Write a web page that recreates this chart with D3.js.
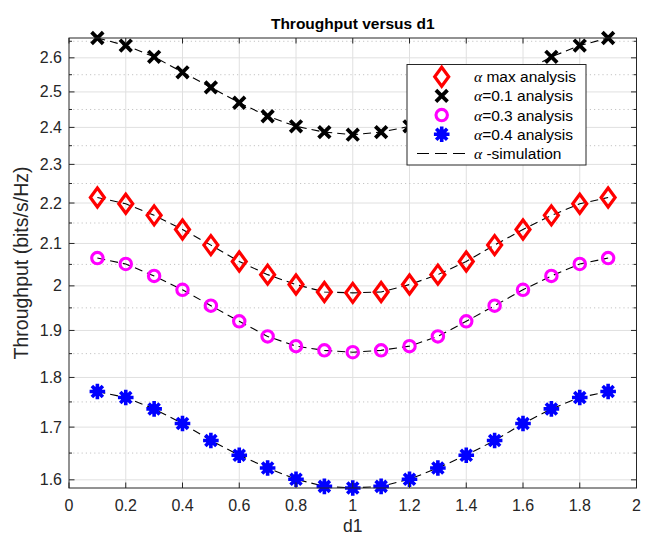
<!DOCTYPE html>
<html>
<head>
<meta charset="utf-8">
<script src="https://cdn.jsdelivr.net/npm/d3@7/dist/d3.min.js"></script>
<style>
html,body{margin:0;padding:0;background:#fff;}
svg{display:block;}
text{font-family:"Liberation Sans",Arial,sans-serif;}
</style>
</head>
<body>
<svg id="chart" width="656" height="539"></svg>
<script>
// ---- data ----
const d1 = [0.1,0.2,0.3,0.4,0.5,0.6,0.7,0.8,0.9,1.0,1.1,1.2,1.3,1.4,1.5,1.6,1.7,1.8,1.9];
const alphaMax = [2.214,2.198,2.169,2.134,2.096,2.057,2.026,2.003,1.986,1.984,1.986,2.003,2.026,2.057,2.096,2.134,2.169,2.198,2.214];
const alpha01  = [2.660,2.637,2.603,2.557,2.513,2.469,2.431,2.403,2.387,2.380,2.387,2.403,2.431,2.469,2.513,2.557,2.603,2.637,2.660];
const alpha03  = [2.065,2.051,2.023,1.991,1.955,1.920,1.887,1.866,1.857,1.853,1.857,1.866,1.887,1.920,1.955,1.991,2.023,2.051,2.065];
const alpha04  = [1.771,1.759,1.736,1.707,1.674,1.646,1.622,1.601,1.588,1.585,1.588,1.601,1.622,1.646,1.674,1.707,1.736,1.759,1.771];
const xTicks = [0,0.2,0.4,0.6,0.8,1,1.2,1.4,1.6,1.8,2];
const yTicks = [1.6,1.7,1.8,1.9,2.0,2.1,2.2,2.3,2.4,2.5,2.6];
const yMinor = [1.65,1.75,1.85,1.95,2.05,2.15,2.25,2.35,2.45,2.55,2.65];
const titleText = "Throughput versus d1";
const xLabel = "d1";
const yLabel = "Throughput (bits/s/Hz)";

const series = [
  {name:"max analysis", sep:" ", values:alphaMax, marker:"diamond", color:"#ff0000"},
  {name:"=0.1 analysis", sep:"", values:alpha01, marker:"x", color:"#000000"},
  {name:"=0.3 analysis", sep:"", values:alpha03, marker:"circle", color:"#ff00ff"},
  {name:"=0.4 analysis", sep:"", values:alpha04, marker:"star", color:"#0000ff"}
];

// ---- layout ----
const L = 69, R = 636.5, T = 38, B = 488;
const svg = d3.select("#chart");
const allVals = [].concat(alphaMax, alpha01, alpha03, alpha04);
const x = d3.scaleLinear().domain([0,2]).range([L,R]);
const y = d3.scaleLog().domain(d3.extent(allVals)).range([B,T]);

const axisColor = "#262626";

// grid
const g = svg.append("g");
g.selectAll(".vg").data(xTicks.slice(1,-1)).enter().append("line")
  .attr("x1",d=>x(d)).attr("x2",d=>x(d)).attr("y1",T).attr("y2",B)
  .attr("stroke","#e0e0e0").attr("stroke-width",1);
g.selectAll(".hm").data(yMinor.filter(v=>y(v)>=T&&y(v)<=B)).enter().append("line")
  .attr("x1",L).attr("x2",R).attr("y1",d=>y(d)).attr("y2",d=>y(d))
  .attr("stroke","#c4c4c4").attr("stroke-width",1).attr("stroke-dasharray","1.2,3");
g.selectAll(".hg").data(yTicks).enter().append("line")
  .attr("x1",L).attr("x2",R).attr("y1",d=>y(d)).attr("y2",d=>y(d))
  .attr("stroke","#e0e0e0").attr("stroke-width",1);

// simulation dashed lines
const line = d3.line().x((d,i)=>x(d1[i])).y(d=>y(d)).curve(d3.curveLinear);
series.forEach(s=>{
  svg.append("path").attr("d",line(s.values)).attr("fill","none")
    .attr("stroke","#000").attr("stroke-width",1.1).attr("stroke-dasharray","8,5");
});

// markers
function drawMarker(sel, type, color){
  if(type==="diamond"){
    sel.append("path").attr("d","M0,-9.5 L7,0 L0,9.5 L-7,0 Z").attr("fill","none")
      .attr("stroke",color).attr("stroke-width",3.2).attr("stroke-linejoin","miter");
  } else if(type==="x"){
    sel.append("path").attr("d","M-5.8,-5.8 L5.8,5.8 M-5.8,5.8 L5.8,-5.8").attr("fill","none")
      .attr("stroke",color).attr("stroke-width",3.8);
  } else if(type==="circle"){
    sel.append("circle").attr("r",5.7).attr("fill","none")
      .attr("stroke",color).attr("stroke-width",3.1);
  } else if(type==="star"){
    sel.append("path").attr("d","M-7.8,0 L7.8,0 M0,-7.8 L0,7.8 M-5.5,-5.5 L5.5,5.5 M-5.5,5.5 L5.5,-5.5")
      .attr("fill","none").attr("stroke",color).attr("stroke-width",3.6);
    sel.append("circle").attr("r",5).attr("fill",color);
  }
}
series.forEach(s=>{
  const gg = svg.append("g");
  s.values.forEach((v,i)=>{
    const m = gg.append("g").attr("transform",`translate(${x(d1[i])},${y(v)})`);
    drawMarker(m, s.marker, s.color);
  });
});

// axes box
svg.append("rect").attr("x",L).attr("y",T).attr("width",R-L).attr("height",B-T)
  .attr("fill","none").attr("stroke",axisColor).attr("stroke-width",1);

// ticks
const tk = svg.append("g").attr("stroke",axisColor).attr("stroke-width",1);
xTicks.forEach(t=>{
  tk.append("line").attr("x1",x(t)).attr("x2",x(t)).attr("y1",B).attr("y2",B-5.5);
  tk.append("line").attr("x1",x(t)).attr("x2",x(t)).attr("y1",T).attr("y2",T+5.5);
});
yTicks.forEach(t=>{
  tk.append("line").attr("x1",L).attr("x2",L+5.5).attr("y1",y(t)).attr("y2",y(t));
  tk.append("line").attr("x1",R).attr("x2",R-5.5).attr("y1",y(t)).attr("y2",y(t));
});
yMinor.filter(v=>y(v)>=T&&y(v)<=B).forEach(t=>{
  tk.append("line").attr("x1",L).attr("x2",L+3).attr("y1",y(t)).attr("y2",y(t));
  tk.append("line").attr("x1",R).attr("x2",R-3).attr("y1",y(t)).attr("y2",y(t));
});

// tick labels
const fmt = d3.format("~g");
svg.append("g").selectAll("text").data(xTicks).enter().append("text")
  .attr("x",d=>x(d)).attr("y",B+23).attr("text-anchor","middle")
  .attr("font-size",16).attr("fill",axisColor).text(d=>fmt(d));
svg.append("g").selectAll("text").data(yTicks).enter().append("text")
  .attr("x",L-7).attr("y",d=>y(d)+5.5).attr("text-anchor","end")
  .attr("font-size",16).attr("fill",axisColor).text(d=>fmt(d));

// labels
svg.append("text").attr("x",(L+R)/2).attr("y",29).attr("text-anchor","middle")
  .attr("font-size",15.5).attr("font-weight","bold").attr("fill","#000").text(titleText);
svg.append("text").attr("x",(L+R)/2).attr("y",532).attr("text-anchor","middle")
  .attr("font-size",17.5).attr("fill",axisColor).text(xLabel);
svg.append("text").attr("transform",`translate(28,${(T+B)/2}) rotate(-90)`)
  .attr("text-anchor","middle").attr("font-size",19.5).attr("fill",axisColor).text(yLabel);

// legend
const lg = svg.append("g");
lg.append("rect").attr("x",407).attr("y",64.5).attr("width",179).attr("height",100.5)
  .attr("fill","#fff").attr("stroke",axisColor).attr("stroke-width",1);
const rowY = i => 76.7 + i*19.2;
series.forEach((s,i)=>{
  const m = lg.append("g").attr("transform",`translate(441.7,${rowY(i)})`);
  drawMarker(m, s.marker, s.color);
  const t = lg.append("text").attr("x",474).attr("y",rowY(i)+5.5).attr("font-size",15.5).attr("fill","#000");
  t.append("tspan").attr("font-family","'Liberation Serif',serif").attr("font-style","italic").text("α");
  t.append("tspan").text(s.sep + s.name);
});
lg.append("line").attr("x1",417).attr("x2",468).attr("y1",rowY(4)).attr("y2",rowY(4))
  .attr("stroke","#000").attr("stroke-width",1.1).attr("stroke-dasharray","12,6");
const t5 = lg.append("text").attr("x",474).attr("y",rowY(4)+5.5).attr("font-size",15.5).attr("fill","#000");
t5.append("tspan").attr("font-family","'Liberation Serif',serif").attr("font-style","italic").text("α");
t5.append("tspan").text(" -simulation");
</script>
</body>
</html>
